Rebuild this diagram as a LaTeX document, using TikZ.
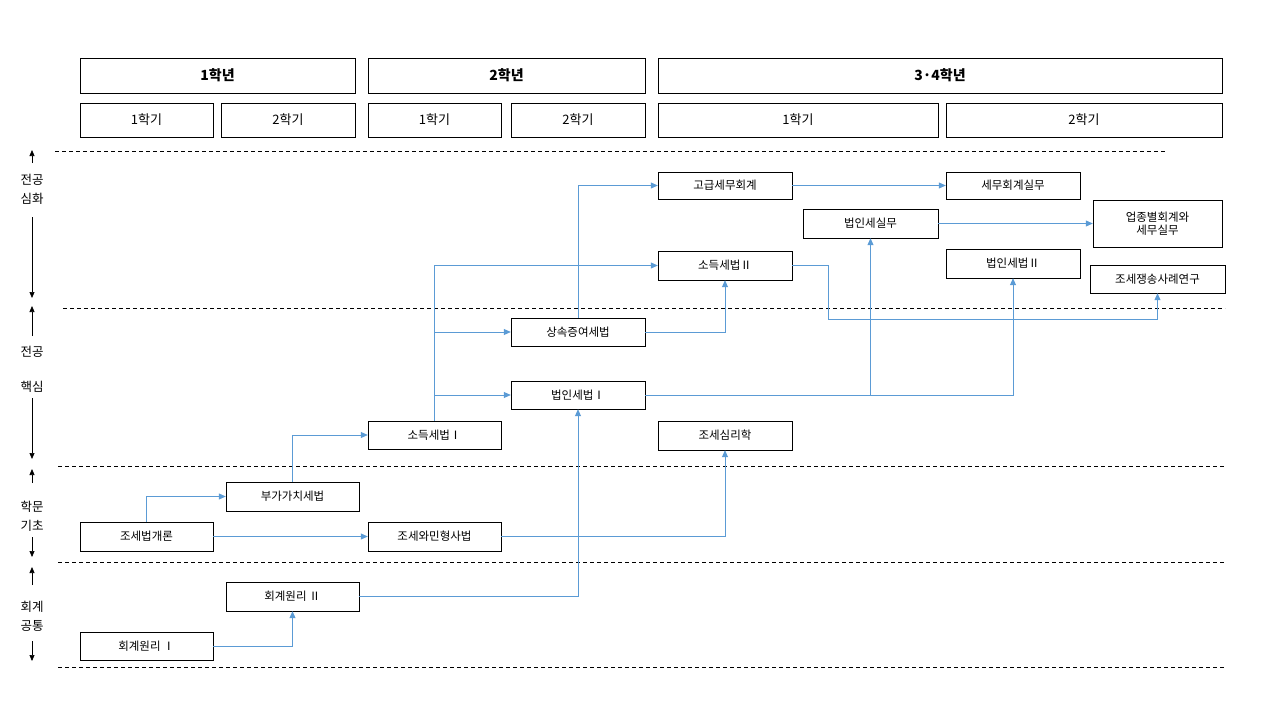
\documentclass[tikz,border=0pt]{standalone}
\usepackage{fontspec}
\setmainfont{Noto Sans CJK KR}
\usetikzlibrary{arrows.meta}
\definecolor{linkblue}{RGB}{91,155,213}
\tikzset{
  box/.style={draw=black, fill=white, inner sep=0pt, font=\fontsize{11.5}{13}\selectfont, align=center},
  head/.style={box, font=\fontsize{14}{16}\selectfont\bfseries},
  sem/.style={box, font=\fontsize{13}{15}\selectfont},
  link/.style={draw=linkblue, line width=0.8pt, -{Triangle[width=6pt,length=7pt]}},
  sep/.style={draw=black, dashed, dash pattern=on 4pt off 3pt, line width=0.6pt},
  side/.style={font=\fontsize{12.5}{19}\selectfont, align=center, inner sep=0pt},
  sidearrow/.style={line width=0.7pt, -{Triangle[width=5pt,length=6pt]}}
}
\begin{document}
\begin{tikzpicture}[x=1pt,y=-1pt]
\useasboundingbox (0,0) rectangle (1280,720);
% header
\node[head, minimum width=275, minimum height=35] (y1) at (217.5,75.5) {1학년};
\node[head, minimum width=277, minimum height=35] (y2) at (506.5,75.5) {2학년};
\node[head, minimum width=564, minimum height=35] (y34) at (940,75.5) {3·4학년};
\node[sem, minimum width=133, minimum height=34] (s11) at (146.5,120) {1학기};
\node[sem, minimum width=134, minimum height=34] (s12) at (288,120) {2학기};
\node[sem, minimum width=133, minimum height=34] (s21) at (434.5,120) {1학기};
\node[sem, minimum width=134, minimum height=34] (s22) at (578,120) {2학기};
\node[sem, minimum width=280, minimum height=34] (s31) at (798,120) {1학기};
\node[sem, minimum width=276, minimum height=34] (s32) at (1084,120) {2학기};
% dashed separators
\draw[sep] (55,151)--(1165,151);
\draw[sep] (63,308)--(1225,308);
\draw[sep] (58,466)--(1225,466);
\draw[sep] (58,562)--(1225,562);
\draw[sep] (58,667)--(1225,667);
% side labels
\node[side] (lv1) at (32,189) {전공\\심화};
\draw[sidearrow] (32,163)--(32,150);
\draw[sidearrow] (32,217)--(32,298);
\node[side] (lv2a) at (32,352) {전공};
\node[side] (lv2b) at (32,387) {핵심};
\draw[sidearrow] (32,336)--(32,306);
\draw[sidearrow] (32,398)--(32,459);
\node[side] (lv3) at (32,516) {학문\\기초};
\draw[sidearrow] (32,483)--(32,469);
\draw[sidearrow] (32,537)--(32,557);
\node[side] (lv4) at (32,616) {회계\\공통};
\draw[sidearrow] (32,585)--(32,567);
\draw[sidearrow] (32,641)--(32,661);
% courses
\node[box, minimum width=134, minimum height=27] (ga) at (725,185.5) {고급세무회계};
\node[box, minimum width=134, minimum height=27] (sh) at (1013,185.5) {세무회계실무};
\node[box, minimum width=135, minimum height=29] (bs) at (870.5,223.5) {법인세실무};
\node[box, minimum width=129, minimum height=47] (uj) at (1157.5,223.5) {업종별회계와\\세무실무};
\node[box, minimum width=134, minimum height=29] (so2) at (725,265.5) {소득세법Ⅱ};
\node[box, minimum width=134, minimum height=29] (bi2) at (1013,263.5) {법인세법Ⅱ};
\node[box, minimum width=135, minimum height=28] (js) at (1157.5,279) {조세쟁송사례연구};
\node[box, minimum width=134, minimum height=28] (sj) at (578,332) {상속증여세법};
\node[box, minimum width=134, minimum height=28] (bi1) at (578,395) {법인세법Ⅰ};
\node[box, minimum width=133, minimum height=28] (so1) at (434.5,435) {소득세법Ⅰ};
\node[box, minimum width=134, minimum height=29] (jsr) at (725,435.5) {조세심리학};
\node[box, minimum width=133, minimum height=29] (bg) at (292.5,496.5) {부가가치세법};
\node[box, minimum width=133, minimum height=29] (jg) at (146.5,536.5) {조세법개론};
\node[box, minimum width=133, minimum height=29] (jm) at (434.5,536.5) {조세와민형사법};
\node[box, minimum width=133, minimum height=29] (hw2) at (292.5,596.5) {회계원리 Ⅱ};
\node[box, minimum width=133, minimum height=28] (hw1) at (146.5,646) {회계원리 Ⅰ};
\coordinate (bend) at (828,319);
% connectors
\draw[link] (jg.north) |- (bg.west);
\draw[link] (jg.east) -- (jm.west);
\draw[link] (bg.north) |- (so1.west);
\draw[link] (hw1.east) -| (hw2.south);
\draw[link] (hw2.east) -| (bi1.south);
\draw[link] (jm.east) -| (jsr.south);
\draw[link] (so1.north) |- (so2.west);
\draw[link] (so1.north) |- (sj.west);
\draw[link] (so1.north) |- (bi1.west);
\draw[link] (sj.north) |- (ga.west);
\draw[link] (sj.east) -| (so2.south);
\draw[link] (so2.east) -| (bend) -| (js.south);
\draw[link] (bi1.east) -| (bs.south);
\draw[link] (bi1.east) -| (bi2.south);
\draw[link] (ga.east) -- (sh.west);
\draw[link] (bs.east) -- (uj.west);
\end{tikzpicture}
\end{document}
